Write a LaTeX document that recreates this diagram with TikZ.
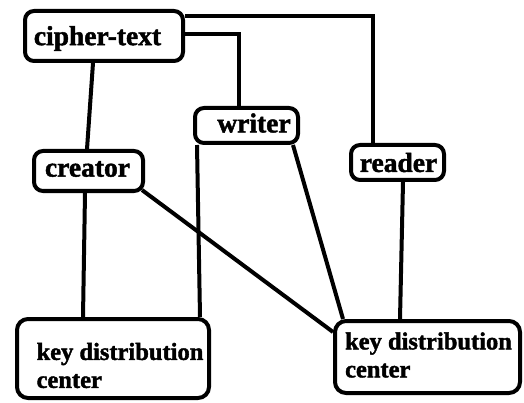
\documentclass[tikz,border=0pt]{standalone}
\usepackage{fontspec}
\setmainfont{Liberation Serif}[BoldFeatures={FakeBold=1.6}]
\begin{document}
\begin{tikzpicture}[x=1pt,y=1pt,
 box/.style={draw, line width=4pt, rounded corners=9pt, inner sep=0pt},
 lbl/.style={font=\bfseries\fontsize{27.5}{32}\selectfont, inner sep=0pt},
 klbl/.style={font=\bfseries\fontsize{24.5}{28}\selectfont, inner sep=0pt, align=left},
 conn/.style={line width=4pt}]
\useasboundingbox (0,0) rectangle (524,402);
\node[box, minimum width=158pt, minimum height=50pt,
  label={[lbl, name=ctl, xshift=-6.5pt, yshift=-2.5pt]center:cipher-text}] (ct) at (104,366) {};
\node[box, minimum width=103pt, minimum height=35pt,
  label={[lbl, name=wrl, xshift=7.5pt, yshift=2.5pt]center:writer}] (wr) at (246.5,276.5) {};
\node[box, minimum width=93pt, minimum height=35pt,
  label={[lbl, name=rdl, xshift=1pt]center:reader}] (rd) at (397.5,239.5) {};
\node[box, minimum width=109pt, minimum height=40pt,
  label={[lbl, name=crl, xshift=-1pt, yshift=2pt]center:creator}] (cr) at (88.5,231) {};
\node[box, rounded corners=11pt, minimum width=192pt, minimum height=79pt,
  label={[klbl, name=kll, xshift=7pt, yshift=-7pt]center:key distribution\\center}] (kl) at (113,43.5) {};
\node[box, rounded corners=11pt, minimum width=185pt, minimum height=72pt,
  label={[klbl, name=krl, xshift=1pt, yshift=2pt]center:key distribution\\center}] (kr) at (427.5,45) {};
\draw[conn] ([xshift=-11pt]ct.south) -- ([xshift=-1.5pt]cr.north);
\draw[conn] ([yshift=2pt]ct.east) -| ([xshift=-8pt]wr.north);
\draw[conn] ([yshift=20pt]ct.east) -| ([xshift=-24.5pt]rd.north);
\draw[conn] ([xshift=-3.5pt]cr.south) -- ([xshift=-30pt]kl.north);
\draw[conn] ([xshift=-49.5pt]wr.south) -- ([xshift=87pt]kl.north);
\draw[conn] ([xshift=-3pt,yshift=3pt]cr.south east) -- ([yshift=25pt]kr.west);
\draw[conn] ([xshift=46.5pt]wr.south) -- ([xshift=-84.5pt]kr.north);
\draw[conn] ([xshift=5.5pt]rd.south) -- ([xshift=-27.5pt]kr.north);
\end{tikzpicture}
\end{document}
